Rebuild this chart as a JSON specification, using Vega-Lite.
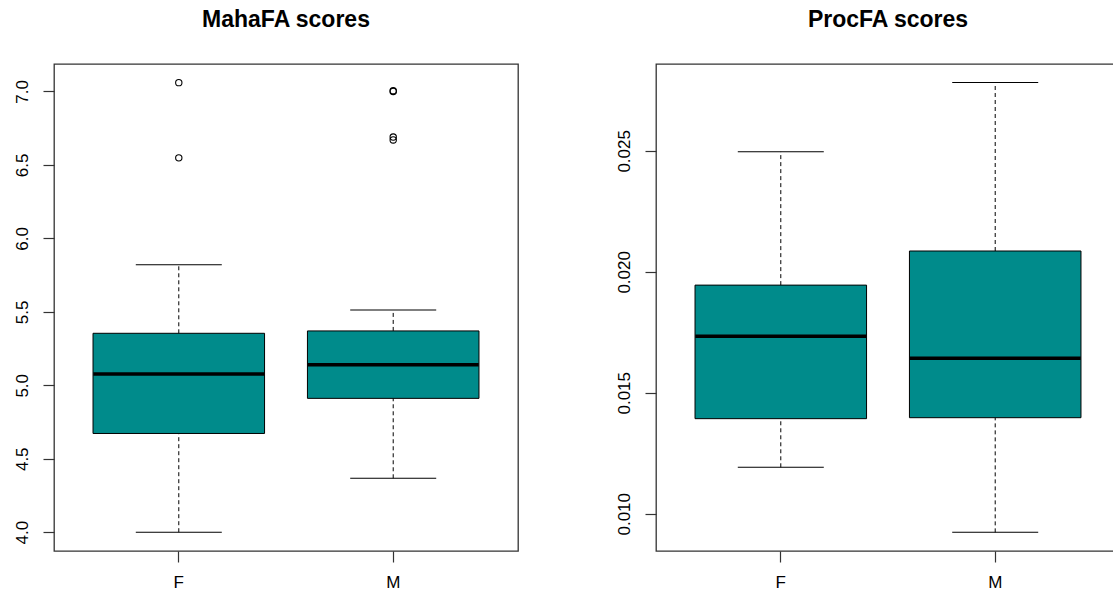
{
  "$schema": "https://vega.github.io/schema/vega-lite/v6.json",
  "background": "white",
  "padding": {"left": 12, "top": 8, "right": 0, "bottom": 0},
  "bounds": "flush",
  "spacing": 138,
  "config": {
    "view": {"stroke": "#333", "strokeWidth": 1.3},
    "font": "Liberation Sans",
    "axis": {
      "labelFont": "Liberation Sans",
      "labelFontSize": 17,
      "labelColor": "#000",
      "tickColor": "#333",
      "tickSize": 11,
      "tickWidth": 1.2,
      "domain": false,
      "grid": false,
      "title": null
    },
    "title": {
      "font": "Liberation Sans",
      "fontSize": 23,
      "fontWeight": "bold",
      "color": "#000",
      "anchor": "middle",
      "baseline": "alphabetic",
      "offset": 32
    }
  },
  "datasets": {
    "maha_box": [
      {"sex": "F", "lower": 4.0, "q1": 4.672, "median": 5.076, "q3": 5.354, "upper": 5.82},
      {"sex": "M", "lower": 4.367, "q1": 4.911, "median": 5.14, "q3": 5.37, "upper": 5.513}
    ],
    "maha_out": [
      {"sex": "F", "value": 7.06},
      {"sex": "F", "value": 6.548},
      {"sex": "M", "value": 7.0},
      {"sex": "M", "value": 7.005},
      {"sex": "M", "value": 6.69},
      {"sex": "M", "value": 6.67}
    ],
    "proc_box": [
      {"sex": "F", "lower": 0.01192, "q1": 0.01393, "median": 0.01734, "q3": 0.01945, "upper": 0.02496},
      {"sex": "M", "lower": 0.00923, "q1": 0.01397, "median": 0.01643, "q3": 0.02086, "upper": 0.02783}
    ]
  },
  "hconcat": [
    {
      "title": "MahaFA scores",
      "width": 464,
      "height": 487,
      "data": {"name": "maha_box"},
      "encoding": {
        "x": {
          "field": "sex",
          "type": "nominal",
          "scale": {"type": "band", "domain": ["F", "M"], "paddingInner": 0, "paddingOuter": 0.082},
          "axis": {"labelAngle": 0, "labelPadding": 12}
        }
      },
      "layer": [
        {
          "mark": {"type": "rule", "color": "#000", "opacity": 1, "strokeWidth": 1, "strokeDash": [4, 3]},
          "encoding": {
            "y": {"field": "q3", "type": "quantitative", "scale": {"domain": [3.872, 7.187], "nice": false, "zero": false},
              "axis": {"values": [4, 4.5, 5, 5.5, 6, 6.5, 7], "format": ".1f", "labelAngle": -90, "labelPadding": 12}},
            "y2": {"field": "upper"}
          }
        },
        {
          "mark": {"type": "rule", "color": "#000", "opacity": 1, "strokeWidth": 1, "strokeDash": [4, 3]},
          "encoding": {
            "y": {"field": "lower", "type": "quantitative"},
            "y2": {"field": "q1"}
          }
        },
        {
          "mark": {"type": "tick", "color": "#000", "opacity": 1, "size": 86, "thickness": 1},
          "encoding": {"y": {"field": "upper", "type": "quantitative"}}
        },
        {
          "mark": {"type": "tick", "color": "#000", "opacity": 1, "size": 86, "thickness": 1},
          "encoding": {"y": {"field": "lower", "type": "quantitative"}}
        },
        {
          "mark": {"type": "bar", "width": {"band": 0.8}, "fill": "#008B8B", "opacity": 1, "stroke": "#000", "strokeWidth": 1},
          "encoding": {
            "y": {"field": "q1", "type": "quantitative"},
            "y2": {"field": "q3"}
          }
        },
        {
          "mark": {"type": "tick", "color": "#000", "opacity": 1, "size": 171, "thickness": 3.5},
          "encoding": {"y": {"field": "median", "type": "quantitative"}}
        },
        {
          "data": {"name": "maha_out"},
          "mark": {"type": "point", "shape": "circle", "filled": false, "stroke": "#000", "opacity": 1, "strokeWidth": 1.1, "size": 40},
          "encoding": {"y": {"field": "value", "type": "quantitative"}}
        }
      ]
    },
    {
      "title": "ProcFA scores",
      "width": 464,
      "height": 487,
      "data": {"name": "proc_box"},
      "encoding": {
        "x": {
          "field": "sex",
          "type": "nominal",
          "scale": {"type": "band", "domain": ["F", "M"], "paddingInner": 0, "paddingOuter": 0.082},
          "axis": {"labelAngle": 0, "labelPadding": 12}
        }
      },
      "layer": [
        {
          "mark": {"type": "rule", "color": "#000", "opacity": 1, "strokeWidth": 1, "strokeDash": [4, 3]},
          "encoding": {
            "y": {"field": "q3", "type": "quantitative", "scale": {"domain": [0.00846, 0.02859], "nice": false, "zero": false},
              "axis": {"values": [0.010, 0.015, 0.020, 0.025], "format": ".3f", "labelAngle": -90, "labelPadding": 12}},
            "y2": {"field": "upper"}
          }
        },
        {
          "mark": {"type": "rule", "color": "#000", "opacity": 1, "strokeWidth": 1, "strokeDash": [4, 3]},
          "encoding": {
            "y": {"field": "lower", "type": "quantitative"},
            "y2": {"field": "q1"}
          }
        },
        {
          "mark": {"type": "tick", "color": "#000", "opacity": 1, "size": 86, "thickness": 1},
          "encoding": {"y": {"field": "upper", "type": "quantitative"}}
        },
        {
          "mark": {"type": "tick", "color": "#000", "opacity": 1, "size": 86, "thickness": 1},
          "encoding": {"y": {"field": "lower", "type": "quantitative"}}
        },
        {
          "mark": {"type": "bar", "width": {"band": 0.8}, "fill": "#008B8B", "opacity": 1, "stroke": "#000", "strokeWidth": 1},
          "encoding": {
            "y": {"field": "q1", "type": "quantitative"},
            "y2": {"field": "q3"}
          }
        },
        {
          "mark": {"type": "tick", "color": "#000", "opacity": 1, "size": 171, "thickness": 3.5},
          "encoding": {"y": {"field": "median", "type": "quantitative"}}
        }
      ]
    }
  ]
}
